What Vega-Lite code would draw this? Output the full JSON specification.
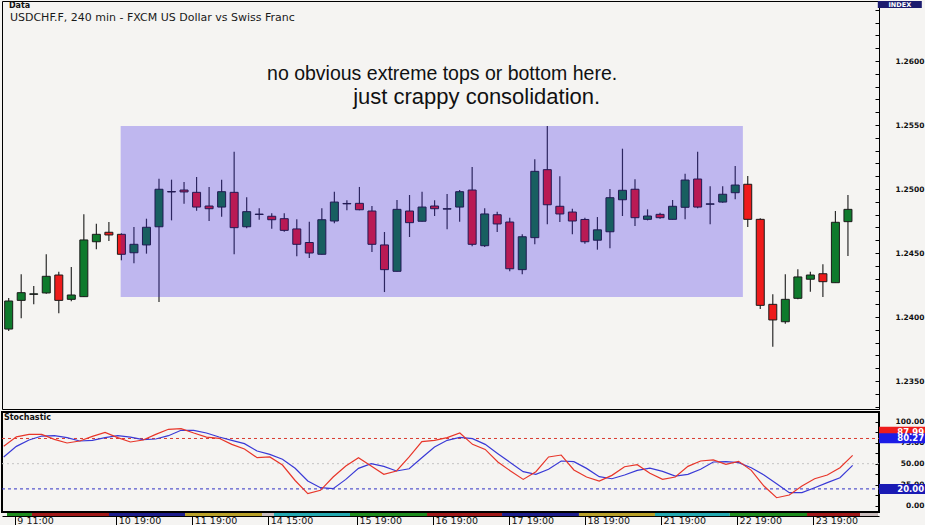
{
  "$schema": "https://vega.github.io/schema/vega-lite/v6.json",
  "background": "#f5f4f2",
  "padding": 0,
  "spacing": 0,
  "resolve": {"scale": {"color": "independent"}},
  "config": {
    "font": "DejaVu Sans",
    "view": {"stroke": "#000000", "strokeWidth": 1},
    "axis": {"grid": false, "title": null, "domainColor": "#000000", "tickColor": "#000000", "labelColor": "#111111", "labelFont": "DejaVu Sans"}
  },
  "datasets": {
    "candles": [
      {"i":0,"open":1.23906,"high":1.24148,"low":1.23891,"close":1.24125,"k":70.8,"d":58},
      {"i":1,"open":1.24130,"high":1.24334,"low":1.23990,"close":1.24190,"k":82,"d":70.6},
      {"i":2,"open":1.24177,"high":1.24242,"low":1.24099,"close":1.24181,"k":84.9,"d":78.2},
      {"i":3,"open":1.24188,"high":1.24490,"low":1.24182,"close":1.24318,"k":84.9,"d":82.9},
      {"i":4,"open":1.24328,"high":1.24354,"low":1.24029,"close":1.24130,"k":79,"d":83.3},
      {"i":5,"open":1.24138,"high":1.24391,"low":1.24123,"close":1.24172,"k":74.6,"d":81},
      {"i":6,"open":1.24159,"high":1.24802,"low":1.24156,"close":1.24602,"k":77,"d":77},
      {"i":7,"open":1.24588,"high":1.24729,"low":1.24529,"close":1.24646,"k":82.5,"d":77.8},
      {"i":8,"open":1.24662,"high":1.24742,"low":1.24594,"close":1.24641,"k":87.3,"d":81},
      {"i":9,"open":1.24646,"high":1.24654,"low":1.24443,"close":1.24490,"k":81,"d":83.3},
      {"i":10,"open":1.24502,"high":1.24703,"low":1.24420,"close":1.24568,"k":75.8,"d":81.7},
      {"i":11,"open":1.24563,"high":1.24768,"low":1.24495,"close":1.24701,"k":78.2,"d":78.6},
      {"i":12,"open":1.24705,"high":1.25080,"low":1.24117,"close":1.24998,"k":84.9,"d":79.4},
      {"i":13,"open":1.24980,"high":1.25073,"low":1.24755,"close":1.24977,"k":90.9,"d":83.3},
      {"i":14,"open":1.24992,"high":1.25055,"low":1.24885,"close":1.24977,"k":91.7,"d":89.7},
      {"i":15,"open":1.24974,"high":1.25094,"low":1.24830,"close":1.24859,"k":86.5,"d":89.7},
      {"i":16,"open":1.24867,"high":1.25016,"low":1.24750,"close":1.24846,"k":81.7,"d":86.5},
      {"i":17,"open":1.24859,"high":1.25073,"low":1.24784,"close":1.24979,"k":80.2,"d":81.7},
      {"i":18,"open":1.24974,"high":1.25291,"low":1.24490,"close":1.24698,"k":73,"d":77.8},
      {"i":19,"open":1.24705,"high":1.24935,"low":1.24693,"close":1.24823,"k":67.5,"d":73.8},
      {"i":20,"open":1.24801,"high":1.24849,"low":1.24760,"close":1.24804,"k":57.1,"d":65.1},
      {"i":21,"open":1.24787,"high":1.24810,"low":1.24690,"close":1.24760,"k":58,"d":61.1},
      {"i":22,"open":1.24768,"high":1.24810,"low":1.24666,"close":1.24677,"k":48.4,"d":55.2},
      {"i":23,"open":1.24688,"high":1.24763,"low":1.24474,"close":1.24568,"k":30,"d":44.5},
      {"i":24,"open":1.24582,"high":1.24745,"low":1.24461,"close":1.24500,"k":14.3,"d":29.4},
      {"i":25,"open":1.24490,"high":1.24849,"low":1.24488,"close":1.24760,"k":18.3,"d":21.4},
      {"i":26,"open":1.24750,"high":1.24979,"low":1.24732,"close":1.24898,"k":34.1,"d":20.2},
      {"i":27,"open":1.24887,"high":1.24912,"low":1.24834,"close":1.24884,"k":47.2,"d":31.3},
      {"i":28,"open":1.24888,"high":1.25016,"low":1.24834,"close":1.24838,"k":57.1,"d":44.4},
      {"i":29,"open":1.24828,"high":1.24867,"low":1.24508,"close":1.24568,"k":47.2,"d":50},
      {"i":30,"open":1.24563,"high":1.24664,"low":1.24195,"close":1.24370,"k":37.3,"d":46.8},
      {"i":31,"open":1.24357,"high":1.24914,"low":1.24355,"close":1.24841,"k":41.3,"d":41.3},
      {"i":32,"open":1.24828,"high":1.24953,"low":1.24625,"close":1.24737,"k":58,"d":44},
      {"i":33,"open":1.24748,"high":1.24979,"low":1.24746,"close":1.24859,"k":76.2,"d":57.1},
      {"i":34,"open":1.24867,"high":1.24912,"low":1.24789,"close":1.24846,"k":77.8,"d":69.8},
      {"i":35,"open":1.24843,"high":1.24961,"low":1.24685,"close":1.24846,"k":81,"d":77.8},
      {"i":36,"open":1.24859,"high":1.24992,"low":1.24745,"close":1.24979,"k":86.5,"d":81.3},
      {"i":37,"open":1.24992,"high":1.25172,"low":1.24552,"close":1.24568,"k":73,"d":79.8},
      {"i":38,"open":1.24557,"high":1.24849,"low":1.24547,"close":1.24805,"k":67,"d":73},
      {"i":39,"open":1.24799,"high":1.24823,"low":1.24664,"close":1.24727,"k":52,"d":61.9},
      {"i":40,"open":1.24742,"high":1.24776,"low":1.24357,"close":1.24377,"k":41.3,"d":51.2},
      {"i":41,"open":1.24370,"high":1.24646,"low":1.24334,"close":1.24627,"k":31.3,"d":40.5},
      {"i":42,"open":1.24620,"high":1.25232,"low":1.24568,"close":1.25138,"k":40.5,"d":37.3},
      {"i":43,"open":1.25151,"high":1.25492,"low":1.24724,"close":1.24877,"k":58,"d":43.3},
      {"i":44,"open":1.24865,"high":1.25099,"low":1.24742,"close":1.24805,"k":60.3,"d":53.2},
      {"i":45,"open":1.24820,"high":1.24846,"low":1.24646,"close":1.24750,"k":42.5,"d":52.4},
      {"i":46,"open":1.24762,"high":1.24776,"low":1.24573,"close":1.24588,"k":34.2,"d":44.4},
      {"i":47,"open":1.24600,"high":1.24781,"low":1.24526,"close":1.24681,"k":29.4,"d":34.5},
      {"i":48,"open":1.24666,"high":1.25000,"low":1.24537,"close":1.24932,"k":36.1,"d":32.1},
      {"i":49,"open":1.24916,"high":1.25315,"low":1.24789,"close":1.24990,"k":46.4,"d":36.5},
      {"i":50,"open":1.24998,"high":1.25076,"low":1.24711,"close":1.24776,"k":48.8,"d":42.1},
      {"i":51,"open":1.24763,"high":1.24841,"low":1.24755,"close":1.24789,"k":38.5,"d":44.8},
      {"i":52,"open":1.24802,"high":1.24815,"low":1.24768,"close":1.24776,"k":31.3,"d":40.9},
      {"i":53,"open":1.24763,"high":1.24914,"low":1.24762,"close":1.24865,"k":34.1,"d":35.3},
      {"i":54,"open":1.24857,"high":1.25120,"low":1.24763,"close":1.25070,"k":46.8,"d":37.3},
      {"i":55,"open":1.25078,"high":1.25291,"low":1.24849,"close":1.24859,"k":53.2,"d":43.3},
      {"i":56,"open":1.24881,"high":1.25021,"low":1.24724,"close":1.24884,"k":54.4,"d":52},
      {"i":57,"open":1.24898,"high":1.25021,"low":1.24893,"close":1.24959,"k":49.2,"d":52.4},
      {"i":58,"open":1.24971,"high":1.25180,"low":1.24920,"close":1.25031,"k":52.8,"d":51.2},
      {"i":59,"open":1.25037,"high":1.25102,"low":1.24703,"close":1.24763,"k":42.1,"d":45.2},
      {"i":60,"open":1.24763,"high":1.24771,"low":1.24063,"close":1.24091,"k":23.4,"d":36.5},
      {"i":61,"open":1.24099,"high":1.24177,"low":1.23768,"close":1.23977,"k":9.5,"d":26.2},
      {"i":62,"open":1.23963,"high":1.24334,"low":1.23948,"close":1.24138,"k":12.7,"d":15.5},
      {"i":63,"open":1.24146,"high":1.24373,"low":1.24138,"close":1.24313,"k":23.4,"d":15.5},
      {"i":64,"open":1.24295,"high":1.24354,"low":1.24198,"close":1.24328,"k":32.1,"d":21.4},
      {"i":65,"open":1.24338,"high":1.24412,"low":1.24156,"close":1.24276,"k":36.5,"d":27.4},
      {"i":66,"open":1.24268,"high":1.24828,"low":1.24268,"close":1.24740,"k":45.2,"d":33.3},
      {"i":67,"open":1.24745,"high":1.24953,"low":1.24477,"close":1.24841,"k":59.9,"d":48}
    ],
    "sessions": [
      {"start":0.26,"end":2.23,"wd":"Tue"},
      {"start":2.23,"end":8.31,"wd":"Wed"},
      {"start":8.31,"end":14.31,"wd":"Thu"},
      {"start":14.31,"end":20.39,"wd":"Fri"},
      {"start":20.39,"end":21.33,"wd":"Sun"},
      {"start":21.33,"end":27.33,"wd":"Mon"},
      {"start":27.33,"end":33.41,"wd":"Tue"},
      {"start":33.41,"end":39.33,"wd":"Wed"},
      {"start":39.33,"end":45.4,"wd":"Thu"},
      {"start":45.4,"end":51.4,"wd":"Fri"},
      {"start":51.4,"end":57.3,"wd":"Mon"},
      {"start":57.3,"end":63.4,"wd":"Tue"},
      {"start":63.4,"end":67.6,"wd":"Wed"},
      {"start":67.6,"end":69.0,"wd":"Sun"}
    ],
    "markers": [
      {"label":"87.99","value":87.99,"line":"%K"},
      {"label":"80.27","value":80.27,"line":"%D"},
      {"label":"20.00","value":20,"line":"Oversold"}
    ],
    "one": [{"n": 1}]
  },
  "vconcat": [
    {
      "width": 877,
      "height": 408,
      "layer": [
        {
          "data": {"name": "candles"},
          "mark": {"type": "rule", "color": "#2b2b2b", "strokeWidth": 1.2, "clip": true},
          "encoding": {
            "x": {"field": "i", "type": "quantitative", "scale": {"domain": [-0.134, 69.08], "nice": false, "zero": false}, "axis": null},
            "y": {"field": "low", "type": "quantitative", "scale": {"domain": [1.232813, 1.264688], "nice": false, "zero": false},
              "axis": {"orient": "right", "values": [1.233,1.234,1.235,1.236,1.237,1.238,1.239,1.24,1.241,1.242,1.243,1.244,1.245,1.246,1.247,1.248,1.249,1.25,1.251,1.252,1.253,1.254,1.255,1.256,1.257,1.258,1.259,1.26,1.261,1.262,1.263,1.264],
                "tickCount": 100,
                "labelExpr": "(round(datum.value*10000) % 50 == 0) ? format(datum.value, '.4f') : ''",
                "tickSize": -4, "labelPadding": 49, "labelAlign": "right", "labelFontWeight": "bold", "labelFontSize": 7.5, "labelOverlap": false, "labelFlush": false}},
            "y2": {"field": "high"}
          }
        },
        {
          "data": {"name": "candles"},
          "mark": {"type": "bar", "size": 8, "stroke": "#1a1a1a", "strokeWidth": 1, "clip": true},
          "encoding": {
            "x": {"field": "i", "type": "quantitative"},
            "y": {"field": "open", "type": "quantitative"},
            "y2": {"field": "close"},
            "color": {"condition": {"test": "datum.close > datum.open", "value": "#0e7a2c"}, "value": "#ee1b1b"}
          }
        },
        {
          "data": {"name": "one"},
          "mark": {"type": "rect", "fill": "#3219e9", "fillOpacity": 0.28, "strokeOpacity": 0},
          "encoding": {
            "x": {"datum": 8.94, "type": "quantitative"},
            "x2": {"datum": 58.61},
            "y": {"datum": 1.241563, "type": "quantitative"},
            "y2": {"datum": 1.254922}
          }
        },
        {
          "data": {"name": "one"},
          "mark": {"type": "text", "text": "no obvious extreme tops or bottom here.", "font": "Liberation Sans", "fontSize": 19.5, "color": "#111111", "align": "center", "baseline": "middle"},
          "encoding": {"x": {"datum": 34.6, "type": "quantitative"}, "y": {"datum": 1.258984, "type": "quantitative"}}
        },
        {
          "data": {"name": "one"},
          "mark": {"type": "text", "text": "just crappy consolidation.", "font": "Liberation Sans", "fontSize": 22, "color": "#111111", "align": "center", "baseline": "middle"},
          "encoding": {"x": {"datum": 37.36, "type": "quantitative"}, "y": {"datum": 1.257188, "type": "quantitative"}}
        },
        {
          "data": {"name": "one"},
          "mark": {"type": "text", "text": "USDCHF.F, 240 min - FXCM US Dollar vs Swiss Franc", "font": "DejaVu Sans", "fontSize": 11, "color": "#1a1a1a", "align": "left", "baseline": "middle"},
          "encoding": {"x": {"datum": 0.1, "type": "quantitative"}, "y": {"datum": 1.26336, "type": "quantitative"}}
        },
        {
          "data": {"name": "one"},
          "mark": {"type": "text", "text": "Data", "font": "DejaVu Sans", "fontSize": 8, "fontWeight": "bold", "color": "#111111", "align": "left", "baseline": "middle"},
          "encoding": {"x": {"datum": 0.02, "type": "quantitative"}, "y": {"datum": 1.264297, "type": "quantitative"}}
        },
        {
          "data": {"name": "one"},
          "mark": {"type": "tick", "orient": "horizontal", "size": 44, "thickness": 7, "color": "#1b1b6e", "opacity": 1},
          "encoding": {"x": {"datum": 71.14, "type": "quantitative"}, "y": {"datum": 1.264414, "type": "quantitative"}}
        },
        {
          "data": {"name": "one"},
          "mark": {"type": "text", "text": "INDEX", "font": "DejaVu Sans", "fontSize": 6.5, "fontWeight": "bold", "color": "#ffffff", "align": "center", "baseline": "middle"},
          "encoding": {"x": {"datum": 71.14, "type": "quantitative"}, "y": {"datum": 1.264414, "type": "quantitative"}}
        }
      ]
    },
    {
      "width": 877,
      "height": 100,
      "view": {"stroke": "#000000", "strokeWidth": 2},
      "layer": [
        {
          "data": {"name": "one"},
          "mark": {"type": "rule", "color": "#c4c4c4", "strokeDash": [2, 3], "strokeWidth": 1},
          "encoding": {
            "x": {"datum": -0.134, "type": "quantitative", "scale": {"domain": [-0.134, 69.08], "nice": false, "zero": false}, "axis": null},
            "x2": {"datum": 69.08},
            "y": {"datum": 50, "type": "quantitative", "scale": {"domain": [-7.5, 111.5], "nice": false, "zero": false},
              "axis": {"orient": "right", "values": [0, 12.5, 25, 37.5, 50, 62.5, 75, 87.5, 100],
                "tickCount": 100,
                "labelExpr": "(datum.value % 25 == 0) ? format(datum.value, '.2f') : ''",
                "tickSize": -4, "labelPadding": 49, "labelAlign": "right", "labelFontWeight": "bold", "labelFontSize": 7.5, "labelOverlap": false, "labelFlush": false}}
          }
        },
        {
          "data": {"name": "one"},
          "mark": {"type": "rule", "color": "#d83a30", "strokeDash": [3, 3], "strokeWidth": 1},
          "encoding": {"x": {"datum": -0.134, "type": "quantitative"}, "x2": {"datum": 69.08}, "y": {"datum": 80, "type": "quantitative"}}
        },
        {
          "data": {"name": "one"},
          "mark": {"type": "rule", "color": "#3232c4", "strokeDash": [3, 3], "strokeWidth": 1},
          "encoding": {"x": {"datum": -0.134, "type": "quantitative"}, "x2": {"datum": 69.08}, "y": {"datum": 20, "type": "quantitative"}}
        },
        {
          "data": {"name": "candles"},
          "mark": {"type": "line", "color": "#3a3ad6", "strokeWidth": 1.2, "clip": true},
          "encoding": {"x": {"field": "i", "type": "quantitative"}, "y": {"field": "d", "type": "quantitative"}}
        },
        {
          "data": {"name": "candles"},
          "mark": {"type": "line", "color": "#e8362a", "strokeWidth": 1.2, "clip": true},
          "encoding": {"x": {"field": "i", "type": "quantitative"}, "y": {"field": "k", "type": "quantitative"}}
        },
        {
          "data": {"name": "markers"},
          "mark": {"type": "tick", "orient": "horizontal", "size": 48, "thickness": 10, "opacity": 1},
          "encoding": {
            "x": {"datum": 70.98, "type": "quantitative"},
            "y": {"field": "value", "type": "quantitative"},
            "color": {"field": "line", "type": "nominal", "scale": {"domain": ["%K", "%D", "Oversold"], "range": ["#ee1c1c", "#1c1ce6", "#1a1ab4"]}, "legend": null}
          }
        },
        {
          "data": {"name": "markers"},
          "mark": {"type": "text", "font": "DejaVu Sans", "fontSize": 8.5, "fontWeight": "bold", "color": "#ffffff", "align": "right", "baseline": "middle"},
          "encoding": {
            "x": {"datum": 72.64, "type": "quantitative"},
            "y": {"field": "value", "type": "quantitative"},
            "text": {"field": "label"}
          }
        },
        {
          "data": {"name": "one"},
          "mark": {"type": "text", "text": "Stochastic", "font": "DejaVu Sans", "fontSize": 8, "fontWeight": "bold", "color": "#111111", "align": "left", "baseline": "middle"},
          "encoding": {"x": {"datum": 0.02, "type": "quantitative"}, "y": {"datum": 104.2, "type": "quantitative"}}
        }
      ]
    },
    {
      "width": 877,
      "height": 3,
      "view": {"stroke": null},
      "data": {"name": "sessions"},
      "mark": {"type": "rect"},
      "encoding": {
        "x": {"field": "start", "type": "quantitative", "scale": {"domain": [-0.134, 69.08], "nice": false, "zero": false},
          "axis": {"orient": "bottom", "values": [1, 9, 15, 21, 28, 34, 40, 46, 52, 58, 64],
            "labelExpr": "datum.value==1?'9 11:00':datum.value==9?'10 19:00':datum.value==15?'11 19:00':datum.value==21?'14 15:00':datum.value==28?'15 19:00':datum.value==34?'16 19:00':datum.value==40?'17 19:00':datum.value==46?'18 19:00':datum.value==52?'21 19:00':datum.value==58?'22 19:00':'23 19:00'",
            "tickCount": 100,
            "tickSize": 9, "tickOffset": -1.5, "labelOffset": 2, "labelAlign": "left", "labelBaseline": "top", "labelPadding": -10,
            "labelFontSize": 9.5, "labelFontWeight": "normal", "labelColor": "#111111", "labelOverlap": false, "labelFlush": false, "labelBound": false, "domain": true}},
        "x2": {"field": "end"},
        "color": {"field": "wd", "type": "nominal", "scale": {"domain": ["Mon", "Tue", "Wed", "Thu", "Fri", "Sun"], "range": ["#22a8b0", "#1e8c1e", "#a01818", "#1c1c8c", "#b8a028", "#c8bcbc"]}, "legend": null}
      }
    }
  ]
}
